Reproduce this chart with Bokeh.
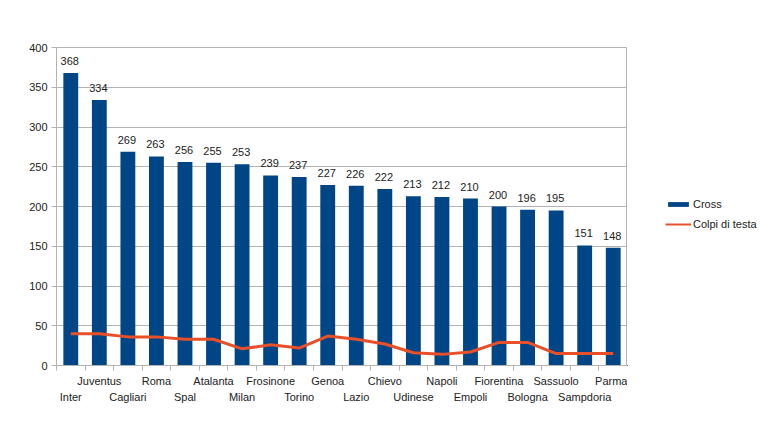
from bokeh.plotting import figure
from bokeh.layouts import row
from bokeh.models import Range1d, FixedTicker, LinearAxis, Legend, LegendItem, ColumnDataSource
from bokeh.core.properties import value
from bokeh.embed import file_html
from bokeh.resources import INLINE

teams = ["Inter", "Juventus", "Cagliari", "Roma", "Spal", "Atalanta", "Milan",
         "Frosinone", "Torino", "Genoa", "Lazio", "Chievo", "Udinese", "Napoli",
         "Empoli", "Fiorentina", "Bologna", "Sassuolo", "Sampdoria", "Parma"]
cross = [368, 334, 269, 263, 256, 255, 253, 239, 237, 227, 226, 222, 213, 212,
         210, 200, 196, 195, 151, 148]
colpi = [40, 40, 36, 36, 33, 33, 21, 26, 22, 37, 33, 27, 16, 14, 17, 29, 29,
         15, 15, 15]
y_ticks = [0, 50, 100, 150, 200, 250, 300, 350, 400]
series_names = ["Cross", "Colpi di testa"]

BLUE = "#004586"
ORANGE = "#e8502a"
GRID = "#b3b3b3"
TXT = "#222222"
FONT = "Liberation Sans"

xs = list(range(len(teams)))
src = ColumnDataSource(dict(x=xs, cross=cross, colpi=colpi,
                            lbl=[str(v) for v in cross]))

p = figure(width=627, height=427, x_range=Range1d(-0.5, len(teams) - 0.5),
           y_range=Range1d(0, 400), output_backend="svg", toolbar_location=None,
           min_border_left=56, min_border_right=0, min_border_top=47,
           min_border_bottom=62)
p.background_fill_color = "white"
p.border_fill_color = "white"
p.outline_line_color = GRID

bars = p.vbar(x="x", top="cross", width=0.52, source=src, fill_color=BLUE,
              line_color=None)
line = p.line(x="x", y="colpi", source=src, line_color=ORANGE, line_width=3)
p.text(x="x", y="cross", text="lbl", source=src, text_align="center",
       text_baseline="bottom", x_offset=-1, y_offset=-8, text_font_size="11px",
       text_color=TXT, text_font=value(FONT))

# y axis
p.yaxis.ticker = FixedTicker(ticks=y_ticks)
p.yaxis.axis_line_color = GRID
p.yaxis.major_tick_line_color = GRID
p.yaxis.major_tick_in = 0
p.yaxis.major_tick_out = 5
p.yaxis.minor_tick_line_color = None
p.yaxis.major_label_text_font = FONT
p.yaxis.major_label_text_font_size = "11px"
p.yaxis.major_label_text_color = TXT
p.yaxis.major_label_standoff = 4

p.ygrid.ticker = FixedTicker(ticks=y_ticks)
p.ygrid.grid_line_color = GRID
p.xgrid.grid_line_color = None

# main x axis: boundary ticks only
bounds = [i - 0.5 for i in range(len(teams) + 1)]
p.xaxis.ticker = FixedTicker(ticks=bounds)
p.xaxis.major_label_overrides = {b: "" for b in bounds}
p.xaxis.axis_line_color = GRID
p.xaxis.major_tick_line_color = GRID
p.xaxis.major_tick_in = 0
p.xaxis.major_tick_out = 5
p.xaxis.minor_tick_line_color = None
p.xaxis.major_label_standoff = 0

def label_axis(idx, standoff):
    ax = LinearAxis(ticker=FixedTicker(ticks=idx),
                    major_label_overrides={i: teams[i] for i in idx})
    ax.axis_line_color = None
    ax.major_tick_line_color = None
    ax.minor_tick_line_color = None
    ax.major_tick_out = 0
    ax.major_tick_in = 0
    ax.major_label_standoff = standoff
    ax.major_label_text_font = FONT
    ax.major_label_text_font_size = "11px"
    ax.major_label_text_color = TXT
    p.add_layout(ax, "below")
    return ax

label_axis([i for i in xs if i % 2 == 1], 4)
label_axis([i for i in xs if i % 2 == 0], 1)

# legend panel (its ranges keep the proxy glyphs out of view)
q = figure(width=140, height=427, x_range=Range1d(1000, 1001),
           y_range=Range1d(1000, 1001), output_backend="svg",
           toolbar_location=None, x_axis_location=None, y_axis_location=None,
           min_border=0)
q.outline_line_color = None
q.background_fill_color = "white"
q.border_fill_color = "white"
q.xgrid.grid_line_color = None
q.ygrid.grid_line_color = None
lb = q.vbar(x="x", top="cross", width=0.52, source=src, fill_color=BLUE,
            line_color=None)
ll = q.line(x="x", y="colpi", source=src, line_color=ORANGE, line_width=2)

legend = Legend(items=[LegendItem(label=series_names[0], renderers=[lb]),
                       LegendItem(label=series_names[1], renderers=[ll])],
                location=(38, 131))
legend.border_line_color = None
legend.background_fill_alpha = 0
legend.padding = 0
legend.margin = 0
legend.spacing = 0
legend.glyph_width = 26
legend.glyph_height = 6
legend.label_height = 20
legend.label_standoff = 2
legend.label_text_font = FONT
legend.label_text_font_size = "11px"
legend.label_text_color = TXT
q.add_layout(legend, "center")

layout = row(p, q, spacing=0)
open("out.html", "w").write(file_html(layout, INLINE))
